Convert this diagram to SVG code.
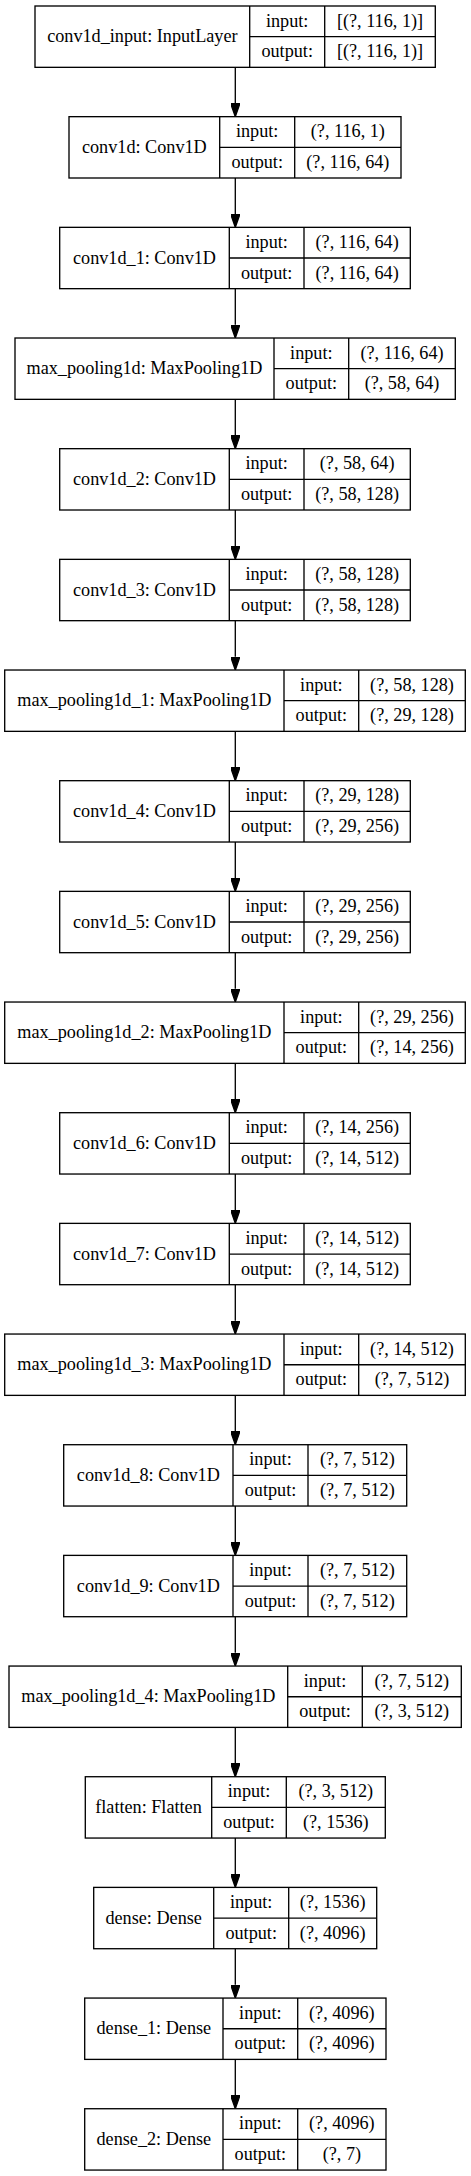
<svg xmlns="http://www.w3.org/2000/svg" width="471" height="2176" viewBox="0 0 471 2176">
<style>
.n rect{fill:#fff;stroke:#000;stroke-width:1.33}
.n line{stroke:#000;stroke-width:1.33}
text{font-family:"Liberation Serif","Times New Roman",serif;font-size:18.2px;text-anchor:middle;fill:#000}
.e line{stroke:#000;stroke-width:1.33;marker-end:url(#ah)}
</style>
<defs>
<marker id="ah" viewBox="0 -3.5 10 7" refX="0" refY="0" markerWidth="13.33" markerHeight="9.33" markerUnits="userSpaceOnUse" orient="auto">
<path d="M0,-3.5 L10,0 L0,3.5 z" fill="#000" stroke="#000" stroke-width="1"/>
</marker>
</defs>
<rect width="471" height="2176" fill="#fff"/>
<g id="edges" class="e">
<line x1="235.3" y1="67.33" x2="235.3" y2="103.34"/>
<line x1="235.3" y1="178" x2="235.3" y2="214.01"/>
<line x1="235.3" y1="288.67" x2="235.3" y2="324.68"/>
<line x1="235.3" y1="399.34" x2="235.3" y2="435.35"/>
<line x1="235.3" y1="510.01" x2="235.3" y2="546.02"/>
<line x1="235.3" y1="620.68" x2="235.3" y2="656.69"/>
<line x1="235.3" y1="731.35" x2="235.3" y2="767.36"/>
<line x1="235.3" y1="842.02" x2="235.3" y2="878.03"/>
<line x1="235.3" y1="952.69" x2="235.3" y2="988.7"/>
<line x1="235.3" y1="1063.36" x2="235.3" y2="1099.37"/>
<line x1="235.3" y1="1174.03" x2="235.3" y2="1210.04"/>
<line x1="235.3" y1="1284.7" x2="235.3" y2="1320.71"/>
<line x1="235.3" y1="1395.37" x2="235.3" y2="1431.38"/>
<line x1="235.3" y1="1506.04" x2="235.3" y2="1542.05"/>
<line x1="235.3" y1="1616.71" x2="235.3" y2="1652.72"/>
<line x1="235.3" y1="1727.38" x2="235.3" y2="1763.39"/>
<line x1="235.3" y1="1838.05" x2="235.3" y2="1874.06"/>
<line x1="235.3" y1="1948.72" x2="235.3" y2="1984.73"/>
<line x1="235.3" y1="2059.39" x2="235.3" y2="2095.4"/>
</g>

<g id="conv1d_input" class="n" transform="translate(0,6)">
<rect x="35" y="0" width="400.3" height="61.33"/>
<line x1="249.7" y1="0" x2="249.7" y2="61.33"/><line x1="324.7" y1="0" x2="324.7" y2="61.33"/><line x1="249.7" y1="30.67" x2="435.3" y2="30.67"/>
<text x="142.35" y="36.2">conv1d_input: InputLayer</text>
<text x="287.2" y="20.6">input:</text><text x="380" y="20.6">[(?, 116, 1)]</text>
<text x="287.2" y="51.3">output:</text><text x="380" y="51.3">[(?, 116, 1)]</text>
</g>

<g id="conv1d" class="n" transform="translate(0,116.67)">
<rect x="69" y="0" width="332" height="61.33"/>
<line x1="219.7" y1="0" x2="219.7" y2="61.33"/><line x1="294.7" y1="0" x2="294.7" y2="61.33"/><line x1="219.7" y1="30.67" x2="401" y2="30.67"/>
<text x="144.35" y="36.2">conv1d: Conv1D</text>
<text x="257.2" y="20.6">input:</text><text x="347.85" y="20.6">(?, 116, 1)</text>
<text x="257.2" y="51.3">output:</text><text x="347.85" y="51.3">(?, 116, 64)</text>
</g>

<g id="conv1d_1" class="n" transform="translate(0,227.34)">
<rect x="59.7" y="0" width="350.6" height="61.33"/>
<line x1="229.3" y1="0" x2="229.3" y2="61.33"/><line x1="304" y1="0" x2="304" y2="61.33"/><line x1="229.3" y1="30.67" x2="410.3" y2="30.67"/>
<text x="144.5" y="36.2">conv1d_1: Conv1D</text>
<text x="266.65" y="20.6">input:</text><text x="357.15" y="20.6">(?, 116, 64)</text>
<text x="266.65" y="51.3">output:</text><text x="357.15" y="51.3">(?, 116, 64)</text>
</g>

<g id="max_pooling1d" class="n" transform="translate(0,338.01)">
<rect x="15" y="0" width="440.3" height="61.33"/>
<line x1="274" y1="0" x2="274" y2="61.33"/><line x1="348.7" y1="0" x2="348.7" y2="61.33"/><line x1="274" y1="30.67" x2="455.3" y2="30.67"/>
<text x="144.5" y="36.2">max_pooling1d: MaxPooling1D</text>
<text x="311.35" y="20.6">input:</text><text x="402" y="20.6">(?, 116, 64)</text>
<text x="311.35" y="51.3">output:</text><text x="402" y="51.3">(?, 58, 64)</text>
</g>

<g id="conv1d_2" class="n" transform="translate(0,448.68)">
<rect x="59.7" y="0" width="350.6" height="61.33"/>
<line x1="229.3" y1="0" x2="229.3" y2="61.33"/><line x1="304" y1="0" x2="304" y2="61.33"/><line x1="229.3" y1="30.67" x2="410.3" y2="30.67"/>
<text x="144.5" y="36.2">conv1d_2: Conv1D</text>
<text x="266.65" y="20.6">input:</text><text x="357.15" y="20.6">(?, 58, 64)</text>
<text x="266.65" y="51.3">output:</text><text x="357.15" y="51.3">(?, 58, 128)</text>
</g>

<g id="conv1d_3" class="n" transform="translate(0,559.35)">
<rect x="59.7" y="0" width="350.6" height="61.33"/>
<line x1="229.3" y1="0" x2="229.3" y2="61.33"/><line x1="304" y1="0" x2="304" y2="61.33"/><line x1="229.3" y1="30.67" x2="410.3" y2="30.67"/>
<text x="144.5" y="36.2">conv1d_3: Conv1D</text>
<text x="266.65" y="20.6">input:</text><text x="357.15" y="20.6">(?, 58, 128)</text>
<text x="266.65" y="51.3">output:</text><text x="357.15" y="51.3">(?, 58, 128)</text>
</g>

<g id="max_pooling1d_1" class="n" transform="translate(0,670.02)">
<rect x="4.7" y="0" width="460.6" height="61.33"/>
<line x1="284" y1="0" x2="284" y2="61.33"/><line x1="358.7" y1="0" x2="358.7" y2="61.33"/><line x1="284" y1="30.67" x2="465.3" y2="30.67"/>
<text x="144.35" y="36.2">max_pooling1d_1: MaxPooling1D</text>
<text x="321.35" y="20.6">input:</text><text x="412" y="20.6">(?, 58, 128)</text>
<text x="321.35" y="51.3">output:</text><text x="412" y="51.3">(?, 29, 128)</text>
</g>

<g id="conv1d_4" class="n" transform="translate(0,780.69)">
<rect x="59.7" y="0" width="350.6" height="61.33"/>
<line x1="229.3" y1="0" x2="229.3" y2="61.33"/><line x1="304" y1="0" x2="304" y2="61.33"/><line x1="229.3" y1="30.67" x2="410.3" y2="30.67"/>
<text x="144.5" y="36.2">conv1d_4: Conv1D</text>
<text x="266.65" y="20.6">input:</text><text x="357.15" y="20.6">(?, 29, 128)</text>
<text x="266.65" y="51.3">output:</text><text x="357.15" y="51.3">(?, 29, 256)</text>
</g>

<g id="conv1d_5" class="n" transform="translate(0,891.36)">
<rect x="59.7" y="0" width="350.6" height="61.33"/>
<line x1="229.3" y1="0" x2="229.3" y2="61.33"/><line x1="304" y1="0" x2="304" y2="61.33"/><line x1="229.3" y1="30.67" x2="410.3" y2="30.67"/>
<text x="144.5" y="36.2">conv1d_5: Conv1D</text>
<text x="266.65" y="20.6">input:</text><text x="357.15" y="20.6">(?, 29, 256)</text>
<text x="266.65" y="51.3">output:</text><text x="357.15" y="51.3">(?, 29, 256)</text>
</g>

<g id="max_pooling1d_2" class="n" transform="translate(0,1002.03)">
<rect x="4.7" y="0" width="460.6" height="61.33"/>
<line x1="284" y1="0" x2="284" y2="61.33"/><line x1="358.7" y1="0" x2="358.7" y2="61.33"/><line x1="284" y1="30.67" x2="465.3" y2="30.67"/>
<text x="144.35" y="36.2">max_pooling1d_2: MaxPooling1D</text>
<text x="321.35" y="20.6">input:</text><text x="412" y="20.6">(?, 29, 256)</text>
<text x="321.35" y="51.3">output:</text><text x="412" y="51.3">(?, 14, 256)</text>
</g>

<g id="conv1d_6" class="n" transform="translate(0,1112.7)">
<rect x="59.7" y="0" width="350.6" height="61.33"/>
<line x1="229.3" y1="0" x2="229.3" y2="61.33"/><line x1="304" y1="0" x2="304" y2="61.33"/><line x1="229.3" y1="30.67" x2="410.3" y2="30.67"/>
<text x="144.5" y="36.2">conv1d_6: Conv1D</text>
<text x="266.65" y="20.6">input:</text><text x="357.15" y="20.6">(?, 14, 256)</text>
<text x="266.65" y="51.3">output:</text><text x="357.15" y="51.3">(?, 14, 512)</text>
</g>

<g id="conv1d_7" class="n" transform="translate(0,1223.37)">
<rect x="59.7" y="0" width="350.6" height="61.33"/>
<line x1="229.3" y1="0" x2="229.3" y2="61.33"/><line x1="304" y1="0" x2="304" y2="61.33"/><line x1="229.3" y1="30.67" x2="410.3" y2="30.67"/>
<text x="144.5" y="36.2">conv1d_7: Conv1D</text>
<text x="266.65" y="20.6">input:</text><text x="357.15" y="20.6">(?, 14, 512)</text>
<text x="266.65" y="51.3">output:</text><text x="357.15" y="51.3">(?, 14, 512)</text>
</g>

<g id="max_pooling1d_3" class="n" transform="translate(0,1334.04)">
<rect x="4.7" y="0" width="460.6" height="61.33"/>
<line x1="284" y1="0" x2="284" y2="61.33"/><line x1="358.7" y1="0" x2="358.7" y2="61.33"/><line x1="284" y1="30.67" x2="465.3" y2="30.67"/>
<text x="144.35" y="36.2">max_pooling1d_3: MaxPooling1D</text>
<text x="321.35" y="20.6">input:</text><text x="412" y="20.6">(?, 14, 512)</text>
<text x="321.35" y="51.3">output:</text><text x="412" y="51.3">(?, 7, 512)</text>
</g>

<g id="conv1d_8" class="n" transform="translate(0,1444.71)">
<rect x="63.7" y="0" width="343" height="61.33"/>
<line x1="233" y1="0" x2="233" y2="61.33"/><line x1="308" y1="0" x2="308" y2="61.33"/><line x1="233" y1="30.67" x2="406.7" y2="30.67"/>
<text x="148.35" y="36.2">conv1d_8: Conv1D</text>
<text x="270.5" y="20.6">input:</text><text x="357.35" y="20.6">(?, 7, 512)</text>
<text x="270.5" y="51.3">output:</text><text x="357.35" y="51.3">(?, 7, 512)</text>
</g>

<g id="conv1d_9" class="n" transform="translate(0,1555.38)">
<rect x="63.7" y="0" width="343" height="61.33"/>
<line x1="233" y1="0" x2="233" y2="61.33"/><line x1="308" y1="0" x2="308" y2="61.33"/><line x1="233" y1="30.67" x2="406.7" y2="30.67"/>
<text x="148.35" y="36.2">conv1d_9: Conv1D</text>
<text x="270.5" y="20.6">input:</text><text x="357.35" y="20.6">(?, 7, 512)</text>
<text x="270.5" y="51.3">output:</text><text x="357.35" y="51.3">(?, 7, 512)</text>
</g>

<g id="max_pooling1d_4" class="n" transform="translate(0,1666.05)">
<rect x="9" y="0" width="452.3" height="61.33"/>
<line x1="287.7" y1="0" x2="287.7" y2="61.33"/><line x1="362.3" y1="0" x2="362.3" y2="61.33"/><line x1="287.7" y1="30.67" x2="461.3" y2="30.67"/>
<text x="148.35" y="36.2">max_pooling1d_4: MaxPooling1D</text>
<text x="325" y="20.6">input:</text><text x="411.8" y="20.6">(?, 7, 512)</text>
<text x="325" y="51.3">output:</text><text x="411.8" y="51.3">(?, 3, 512)</text>
</g>

<g id="flatten" class="n" transform="translate(0,1776.72)">
<rect x="85.3" y="0" width="300" height="61.33"/>
<line x1="211.7" y1="0" x2="211.7" y2="61.33"/><line x1="286.3" y1="0" x2="286.3" y2="61.33"/><line x1="211.7" y1="30.67" x2="385.3" y2="30.67"/>
<text x="148.5" y="36.2">flatten: Flatten</text>
<text x="249" y="20.6">input:</text><text x="335.8" y="20.6">(?, 3, 512)</text>
<text x="249" y="51.3">output:</text><text x="335.8" y="51.3">(?, 1536)</text>
</g>

<g id="dense" class="n" transform="translate(0,1887.39)">
<rect x="93.7" y="0" width="283" height="61.33"/>
<line x1="213.7" y1="0" x2="213.7" y2="61.33"/><line x1="288.7" y1="0" x2="288.7" y2="61.33"/><line x1="213.7" y1="30.67" x2="376.7" y2="30.67"/>
<text x="153.7" y="36.2">dense: Dense</text>
<text x="251.2" y="20.6">input:</text><text x="332.7" y="20.6">(?, 1536)</text>
<text x="251.2" y="51.3">output:</text><text x="332.7" y="51.3">(?, 4096)</text>
</g>

<g id="dense_1" class="n" transform="translate(0,1998.06)">
<rect x="84.7" y="0" width="301.3" height="61.33"/>
<line x1="223" y1="0" x2="223" y2="61.33"/><line x1="297.7" y1="0" x2="297.7" y2="61.33"/><line x1="223" y1="30.67" x2="386" y2="30.67"/>
<text x="153.85" y="36.2">dense_1: Dense</text>
<text x="260.35" y="20.6">input:</text><text x="341.85" y="20.6">(?, 4096)</text>
<text x="260.35" y="51.3">output:</text><text x="341.85" y="51.3">(?, 4096)</text>
</g>

<g id="dense_2" class="n" transform="translate(0,2108.73)">
<rect x="84.7" y="0" width="301.3" height="61.33"/>
<line x1="223" y1="0" x2="223" y2="61.33"/><line x1="297.7" y1="0" x2="297.7" y2="61.33"/><line x1="223" y1="30.67" x2="386" y2="30.67"/>
<text x="153.85" y="36.2">dense_2: Dense</text>
<text x="260.35" y="20.6">input:</text><text x="341.85" y="20.6">(?, 4096)</text>
<text x="260.35" y="51.3">output:</text><text x="341.85" y="51.3">(?, 7)</text>
</g>
</svg>
